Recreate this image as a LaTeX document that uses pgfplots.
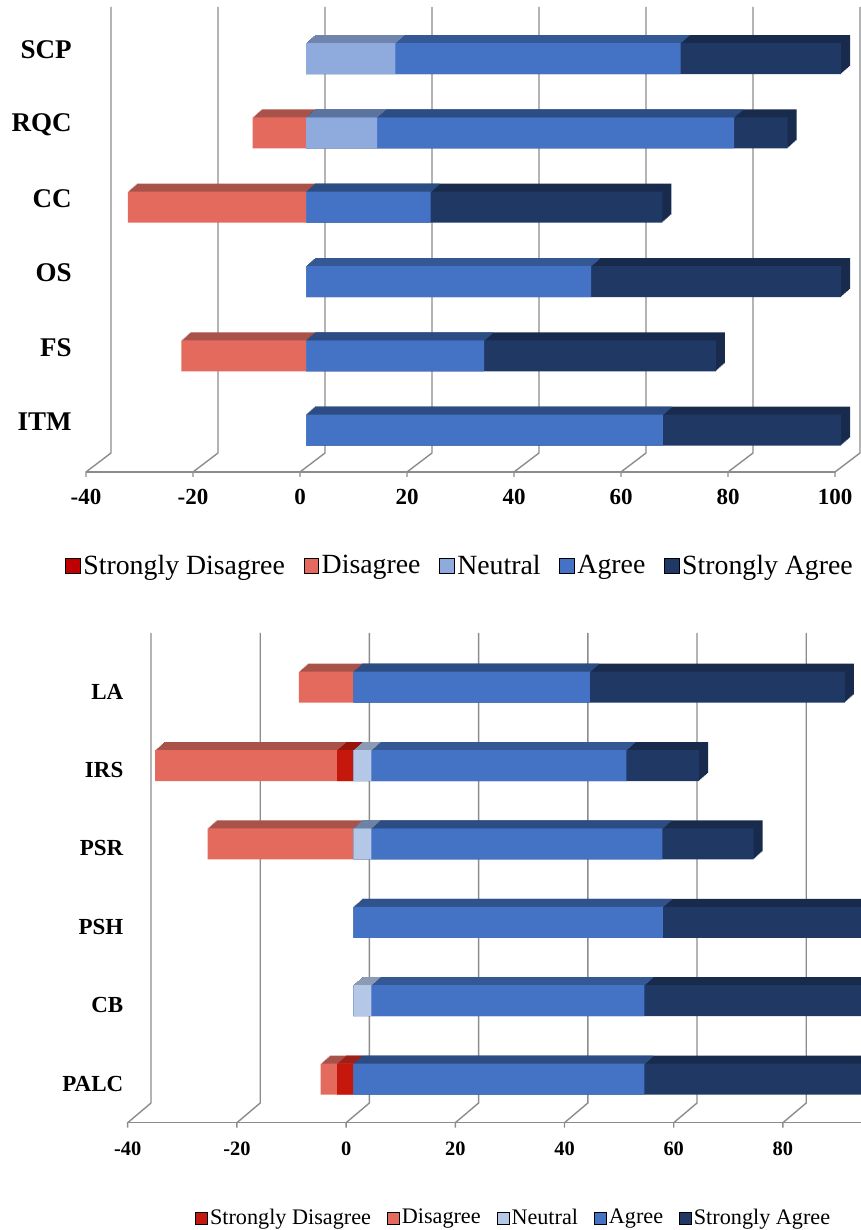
\documentclass[border=0pt]{standalone}
\usepackage{fontspec}
\setmainfont{Liberation Serif}
\usepackage{pgfplots}
\pgfplotsset{compat=1.18}
\usepackage{pgfplotstable}

\definecolor{gridc}{HTML}{8C8C8C}
\definecolor{SDf}{HTML}{C5180D}\definecolor{SDt}{HTML}{9A130B}
\definecolor{SDleg}{HTML}{C00000}
\definecolor{Df}{HTML}{E46A5E}\definecolor{Dt}{HTML}{A9524A}
\definecolor{Nf}{HTML}{8FAADC}\definecolor{Nt}{HTML}{6F85AD}
\definecolor{Nbf}{HTML}{B4C7E7}\definecolor{Nbt}{HTML}{8C9BB4}
\definecolor{Af}{HTML}{4472C4}\definecolor{At}{HTML}{335894}
\definecolor{SAf}{HTML}{203864}\definecolor{SAt}{HTML}{182B4D}

% top chart: cat 5 = SCP (top) ... 0 = ITM (bottom)
\pgfplotstableread{
cat SD D N A SA
5 0 0 16.7 53.3 30.0
4 0 10.0 13.3 66.7 10.0
3 0 33.3 0 23.3 43.3
2 0 0 0 53.3 46.7
1 0 23.3 0 33.3 43.3
0 0 0 0 66.7 33.3
}\topdata
% bottom chart: cat 5 = LA (top) ... 0 = PALC (bottom)
\pgfplotstableread{
cat SD D N A SA
5 0 10.0 0 43.3 46.7
4 3.0 33.3 3.3 46.7 13.3
3 0 26.7 3.3 53.3 16.7
2 0 0 0 56.7 43.3
1 0 0 3.3 50.0 46.7
0 3.0 3.0 0 53.3 40.7
}\botdata

\pgfplotsset{
  likert/.style={
    scale only axis, xmin=-40, xmax=100, ymin=-0.5, ymax=5.5,
    axis x line*=bottom, axis y line*=left,
    x axis line style={draw=none}, y axis line style={draw=none},
    xtick={-40,-20,0,20,40,60,80,100},
    ytick={0,1,2,3,4,5},
    major tick length=0pt, tick style={draw=none}, tick align=inside,
    clip=false,
    legend columns=-1,
    legend image code/.code={\fill[##1] (0pt,-3.6pt) rectangle (7.2pt,3.6pt);},
  },
  bar3d/.style={xbar, bar width=15.5pt, bar shift=0pt, draw=none, forget plot},
}

\begin{document}
\begin{tikzpicture}
\path[use as bounding box, clip] (0,0) rectangle (430.5pt,615pt);

%================ TOP CHART =================
\begin{axis}[likert,
  at={(43pt,379pt)}, anchor=south west, width=374.5pt, height=223pt,
  xticklabels={-40,-20,0,20,40,60,80,100},
  yticklabels={ITM,FS,OS,CC,RQC,SCP},
  xticklabel style={font=\bfseries\fontsize{11.5}{12}\selectfont, inner sep=0pt, anchor=north, yshift=-8.5pt},
  yticklabel style={font=\bfseries\fontsize{13.5}{14}\selectfont, inner sep=0pt, anchor=east, xshift=-7pt, yshift=6.5pt},
  legend style={draw=none, fill=none, at={(0.5,-0.211)}, anchor=center,
    font=\fontsize{13.9}{14}\selectfont, inner sep=0pt,
    nodes={inner sep=1.4pt},
    /tikz/every even column/.append style={column sep=8pt}},
]
\pgfplotsinvokeforeach{-40,-20,0,20,40,60,80,100}{
  \draw[gridc, line width=0.7pt] ([yshift=-2.5pt]axis cs:#1,-0.5) -- (axis cs:#1,-0.5) -- ([xshift=12.5pt,yshift=9.5pt]axis cs:#1,-0.5) -- ([xshift=12.5pt,yshift=9.5pt]axis cs:#1,5.5);
}
\draw[gridc, line width=0.7pt] (axis cs:-40,-0.5) -- (axis cs:100,-0.5);

\pgfplotsinvokeforeach{8,7,6,5,4,3,2,1}{
  \addplot[bar3d, fill=Dt, xshift=3pt+0.5625pt*#1, yshift=2.3pt+0.5pt*#1] table[y=cat, x expr={-(\thisrow{SD}+\thisrow{D})}]{\topdata};
  \addplot[bar3d, fill=SDt, xshift=3pt+0.5625pt*#1, yshift=2.3pt+0.5pt*#1] table[y=cat, x expr={-\thisrow{SD}}]{\topdata};
  \addplot[bar3d, fill=SAt, xshift=3pt+0.5625pt*#1, yshift=2.3pt+0.5pt*#1] table[y=cat, x expr={\thisrow{N}+\thisrow{A}+\thisrow{SA}}]{\topdata};
  \addplot[bar3d, fill=At, xshift=3pt+0.5625pt*#1, yshift=2.3pt+0.5pt*#1] table[y=cat, x expr={\thisrow{N}+\thisrow{A}}]{\topdata};
  \addplot[bar3d, fill=Nt, xshift=3pt+0.5625pt*#1, yshift=2.3pt+0.5pt*#1] table[y=cat, x=N]{\topdata};
}
\addplot[bar3d, fill=Df, xshift=3pt, yshift=2.3pt] table[y=cat, x expr={-(\thisrow{SD}+\thisrow{D})}]{\topdata};
\addplot[bar3d, fill=SDf, xshift=3pt, yshift=2.3pt] table[y=cat, x expr={-\thisrow{SD}}]{\topdata};
\addplot[bar3d, fill=SAf, xshift=3pt, yshift=2.3pt] table[y=cat, x expr={\thisrow{N}+\thisrow{A}+\thisrow{SA}}]{\topdata};
\addplot[bar3d, fill=Af, xshift=3pt, yshift=2.3pt] table[y=cat, x expr={\thisrow{N}+\thisrow{A}}]{\topdata};
\addplot[bar3d, fill=Nf, xshift=3pt, yshift=2.3pt] table[y=cat, x=N]{\topdata};

\addlegendimage{fill=SDleg}\addlegendentry{Strongly Disagree}
\addlegendimage{fill=Df}\addlegendentry{Disagree}
\addlegendimage{fill=Nf}\addlegendentry{Neutral}
\addlegendimage{fill=Af}\addlegendentry{Agree}
\addlegendimage{fill=SAf}\addlegendentry{Strongly Agree}
\end{axis}

%================ BOTTOM CHART =================
\begin{axis}[likert,
  at={(63.85pt,53.65pt)}, anchor=south west, width=382.2pt, height=235.1pt,
  xticklabels={-40,-20,0,20,40,60,80,{}},
  yticklabels={PALC,CB,PSH,PSR,IRS,LA},
  xticklabel style={font=\bfseries\fontsize{10.2}{11}\selectfont, inner sep=0pt, anchor=north, yshift=-9.5pt},
  yticklabel style={font=\bfseries\fontsize{11.5}{12}\selectfont, inner sep=0pt, anchor=east, xshift=-2pt, yshift=0pt},
  legend style={draw=none, fill=none, at={(0.505,-0.2027)}, anchor=center,
    font=\fontsize{11.1}{12}\selectfont, inner sep=0pt,
    nodes={inner sep=1pt},
    /tikz/every even column/.append style={column sep=7pt}},
  legend image code/.code={\fill[#1] (0pt,-3pt) rectangle (6pt,3pt);},
]
\pgfplotsinvokeforeach{-40,-20,0,20,40,60,80,100}{
  \draw[gridc, line width=0.7pt] ([yshift=-2.5pt]axis cs:#1,-0.5) -- (axis cs:#1,-0.5) -- ([xshift=11.65pt,yshift=9.85pt]axis cs:#1,-0.5) -- ([xshift=11.65pt,yshift=9.85pt]axis cs:#1,5.5);
}
\draw[gridc, line width=0.7pt] (axis cs:-40,-0.5) -- (axis cs:100,-0.5);

\pgfplotsinvokeforeach{8,7,6,5,4,3,2,1}{
  \addplot[bar3d, fill=Dt, xshift=3.65pt+0.5625pt*#1, yshift=2.25pt+0.5pt*#1] table[y=cat, x expr={-(\thisrow{SD}+\thisrow{D})}]{\botdata};
  \addplot[bar3d, fill=SDt, xshift=3.65pt+0.5625pt*#1, yshift=2.25pt+0.5pt*#1] table[y=cat, x expr={-\thisrow{SD}}]{\botdata};
  \addplot[bar3d, fill=SAt, xshift=3.65pt+0.5625pt*#1, yshift=2.25pt+0.5pt*#1] table[y=cat, x expr={\thisrow{N}+\thisrow{A}+\thisrow{SA}}]{\botdata};
  \addplot[bar3d, fill=At, xshift=3.65pt+0.5625pt*#1, yshift=2.25pt+0.5pt*#1] table[y=cat, x expr={\thisrow{N}+\thisrow{A}}]{\botdata};
  \addplot[bar3d, fill=Nbt, xshift=3.65pt+0.5625pt*#1, yshift=2.25pt+0.5pt*#1] table[y=cat, x=N]{\botdata};
}
\addplot[bar3d, fill=Df, xshift=3.65pt, yshift=2.25pt] table[y=cat, x expr={-(\thisrow{SD}+\thisrow{D})}]{\botdata};
\addplot[bar3d, fill=SDf, xshift=3.65pt, yshift=2.25pt] table[y=cat, x expr={-\thisrow{SD}}]{\botdata};
\addplot[bar3d, fill=SAf, xshift=3.65pt, yshift=2.25pt] table[y=cat, x expr={\thisrow{N}+\thisrow{A}+\thisrow{SA}}]{\botdata};
\addplot[bar3d, fill=Af, xshift=3.65pt, yshift=2.25pt] table[y=cat, x expr={\thisrow{N}+\thisrow{A}}]{\botdata};
\addplot[bar3d, fill=Nbf, xshift=3.65pt, yshift=2.25pt] table[y=cat, x=N]{\botdata};

\addlegendimage{fill=SDf}\addlegendentry{Strongly Disagree}
\addlegendimage{fill=Df}\addlegendentry{Disagree}
\addlegendimage{fill=Nbf}\addlegendentry{Neutral}
\addlegendimage{fill=Af}\addlegendentry{Agree}
\addlegendimage{fill=SAf}\addlegendentry{Strongly Agree}
\end{axis}
\end{tikzpicture}
\end{document}
